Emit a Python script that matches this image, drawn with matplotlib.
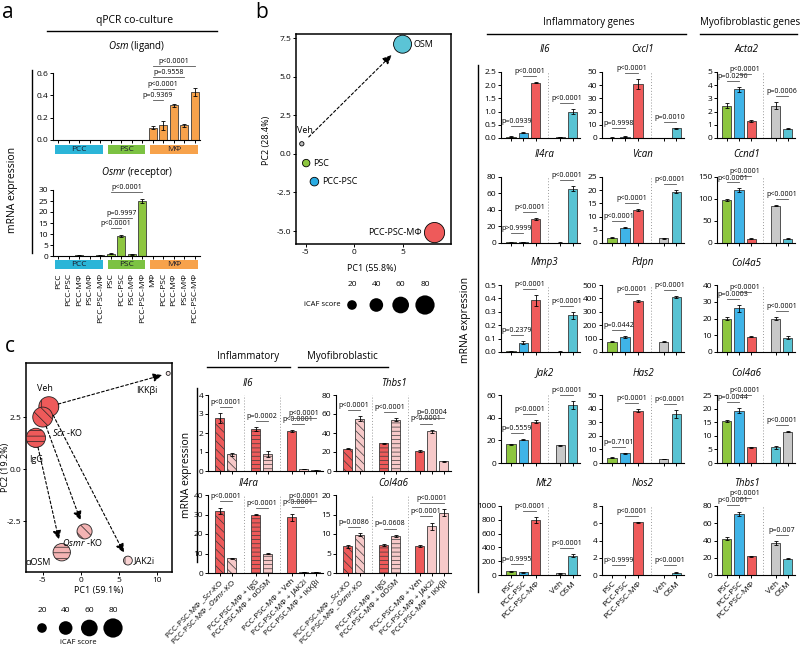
import numpy as np
import matplotlib.pyplot as plt
from matplotlib.lines import Line2D
from matplotlib.ticker import FormatStrFormatter

plt.rcParams['font.family'] = ['Open Sans', 'DejaVu Sans']
plt.rcParams['mathtext.fontset'] = 'custom'
plt.rcParams['mathtext.it'] = 'Open Sans:italic'
plt.rcParams['mathtext.rm'] = 'Open Sans'
plt.rcParams['hatch.linewidth'] = 0.5
plt.rcParams['axes.linewidth'] = 0.8
plt.rcParams['axes.unicode_minus'] = False
plt.rcParams['xtick.major.size'] = 2
plt.rcParams['ytick.major.size'] = 2
plt.rcParams['xtick.major.width'] = 0.7
plt.rcParams['ytick.major.width'] = 0.7
plt.rcParams['xtick.major.pad'] = 1.5
plt.rcParams['ytick.major.pad'] = 1.5
plt.rcParams['xtick.labelsize'] = 6
plt.rcParams['ytick.labelsize'] = 6

# ---------------- a: qPCR co-culture ----------------
cocult_labels = ['PCC', 'PCC-PSC', 'PCC-MΦ', 'PSC-MΦ', 'PCC-PSC-MΦ',
                 'PSC', 'PCC-PSC', 'PSC-MΦ', 'PCC-PSC-MΦ',
                 'MΦ', 'PCC-PSC', 'PCC-MΦ', 'PSC-MΦ', 'PCC-PSC-MΦ']
cell_types = ['PCC', 'PSC', 'MΦ']
cell_counts = [5, 4, 5]
osm = [0, 0, 0, 0, 0, 0, 0, 0, 0, 0.11, 0.13, 0.31, 0.13, 0.43]
osm_err = [0, 0, 0, 0, 0, 0, 0, 0, 0, 0.015, 0.04, 0.01, 0.01, 0.04]
osm_p = [('p=0.9369', 9, 10), ('p<0.0001', 9, 11), ('p=0.9558', 9, 12), ('p<0.0001', 9, 13)]
osmr = [0, 0, 0.3, 0, 0.3, 1.0, 9.2, 0.8, 25.0, 0, 0, 0, 0, 0]
osmr_err = [0, 0, 0.2, 0, 0.2, 0.3, 0.5, 0.2, 1.0, 0, 0, 0, 0, 0]
osmr_p = [('p<0.0001', 5, 6), ('p=0.9997', 5, 7), ('p<0.0001', 5, 8)]

# ---------------- b: PCA ----------------
pca_b_names = ['Veh', 'PSC', 'PCC-PSC', 'OSM', 'PCC-PSC-MΦ']
pca_b_pc1 = [-5.4, -4.95, -4.1, 5.0, 8.3]
pca_b_pc2 = [0.65, -0.6, -1.8, 7.1, -5.1]
pca_b_icaf = [4, 12, 16, 70, 88]

# ---------------- b: bar grid ----------------
b_groups = ['PSC', 'PCC-PSC', 'PCC-PSC-MΦ', 'Veh', 'OSM']
il6 = [0.05, 0.2, 2.1, 0.03, 1.0]
il6_err = [0.01, 0.02, 0.03, 0.01, 0.1]
il6_p = ['p=0.0939', 'p<0.0001', 'p<0.0001']
il4ra = [0.8, 1.0, 29, 0.5, 66]
il4ra_err = [0.2, 0.2, 1.5, 0.2, 3.0]
il4ra_p = ['p>0.9999', 'p<0.0001', 'p<0.0001']
mmp3 = [0.005, 0.07, 0.385, 0.003, 0.275]
mmp3_err = [0.002, 0.01, 0.04, 0.002, 0.025]
mmp3_p = ['p=0.2379', 'p<0.0001', 'p<0.0001']
jak2 = [16.5, 20.5, 36.5, 15.5, 51.5]
jak2_err = [0.7, 0.6, 1.5, 0.5, 3.5]
jak2_p = ['p=0.5559', 'p<0.0001', 'p<0.0001']
mt2 = [55, 40, 800, 25, 280]
mt2_err = [8, 5, 40, 5, 20]
mt2_p = ['p=0.9995', 'p<0.0001', 'p<0.0001']
cxcl1 = [0.3, 1.0, 41, 0.2, 7.5]
cxcl1_err = [0.1, 0.3, 3.5, 0.1, 0.4]
cxcl1_p = ['p=0.9998', 'p<0.0001', 'p=0.0010']
vcan = [2.0, 5.8, 12.5, 1.8, 19.5]
vcan_err = [0.2, 0.3, 0.4, 0.1, 0.6]
vcan_p = ['p<0.0001', 'p<0.0001', 'p<0.0001']
pdpn = [75, 110, 380, 75, 410]
pdpn_err = [4, 6, 10, 4, 6]
pdpn_p = ['p=0.0442', 'p<0.0001', 'p<0.0001']
has2 = [4, 7, 38.5, 3, 36]
has2_err = [0.3, 0.4, 1.0, 0.2, 3.0]
has2_p = ['p=0.7101', 'p<0.0001', 'p<0.0001']
nos2 = [0.02, 0.02, 6.1, 0.02, 0.25]
nos2_err = [0.01, 0.01, 0.05, 0.01, 0.05]
nos2_p = ['p>0.9999', 'p<0.0001', 'p<0.0001']
acta2 = [2.45, 3.7, 1.3, 2.45, 0.7]
acta2_err = [0.2, 0.2, 0.08, 0.25, 0.05]
acta2_p = ['p=0.0296', 'p<0.0001', 'p=0.0006']
ccnd1 = [97, 120, 10, 85, 10]
ccnd1_err = [2, 4, 0.5, 1, 0.5]
ccnd1_p = ['p<0.0001', 'p<0.0001', 'p<0.0001']
col4a5 = [20, 26, 9, 20, 8.5]
col4a5_err = [0.8, 2.0, 0.3, 0.8, 0.8]
col4a5_p = ['p=0.0003', 'p<0.0001', 'p<0.0001']
col4a6 = [15.5, 19.2, 5.8, 5.7, 11.5]
col4a6_err = [0.4, 0.9, 0.2, 0.6, 0.2]
col4a6_p = ['p=0.0044', 'p<0.0001', 'p<0.0001']
thbs1 = [42, 71, 21.5, 37, 19]
thbs1_err = [1.5, 2.5, 0.8, 2.5, 0.5]
thbs1_p = ['p<0.0001', 'p<0.0001', 'p=0.007']
b_pairs = [(0, 1), (1, 2), (3, 4)]

# ---------------- c: PCA ----------------
pca_c_names = ['Veh', 'Scr-KO', 'IgG', 'Osmr-KO', 'αOSM', 'JAK2i', 'IKKβi']
pca_c_text = ['Veh', r'$\mathit{Scr}$ -KO', 'IgG', r'$\mathit{Osmr}$ -KO', 'αOSM', 'JAK2i', 'IKKβi']
pca_c_pc1 = [-4.2, -5.0, -5.9, 0.5, -2.5, 6.2, 11.5]
pca_c_pc2 = [3.0, 2.5, 1.5, -3.0, -4.0, -4.4, 4.6]
pca_c_icaf = [86, 86, 80, 49, 65, 17, 3.5]
pca_c_arrows = [('Veh', 'IKKβi'), ('Veh', 'JAK2i'), ('Scr-KO', 'Osmr-KO'), ('IgG', 'αOSM')]

# ---------------- c: bars ----------------
c_groups = [r'PCC-PSC-MΦ _$\mathit{Scr}$-KO', r'PCC-PSC-MΦ _$\mathit{Osmr}$-KO',
            'PCC-PSC-MΦ + IgG', 'PCC-PSC-MΦ + αOSM',
            'PCC-PSC-MΦ + Veh', 'PCC-PSC-MΦ + JAK2i', 'PCC-PSC-MΦ + IKKβi']
c_il6 = [2.8, 0.88, 2.2, 0.88, 2.1, 0.1, 0.03]
c_il6_err = [0.25, 0.08, 0.1, 0.15, 0.04, 0.02, 0.01]
c_il6_p = [('p<0.0001', 0, 1), ('p=0.0002', 2, 3), ('p<0.0001', 4, 5), ('p<0.0001', 4, 6)]
c_il4ra = [32, 7.5, 30, 10, 28.5, 0.5, 0.5]
c_il4ra_err = [1.5, 0.3, 0.3, 0.4, 2.0, 0.1, 0.1]
c_il4ra_p = [('p<0.0001', 0, 1), ('p<0.0001', 2, 3), ('p<0.0001', 4, 5), ('p<0.0001', 4, 6)]
c_thbs1 = [23.5, 55, 29, 54, 21, 42, 10.5]
c_thbs1_err = [0.5, 2.5, 0.8, 1.5, 0.8, 1.5, 0.5]
c_thbs1_p = [('p<0.0001', 0, 1), ('p<0.0001', 2, 3), ('p<0.0001', 4, 5), ('p=0.0004', 4, 6)]
c_col4a6 = [6.8, 9.8, 7.2, 9.5, 7.0, 12, 15.5]
c_col4a6_err = [0.4, 0.4, 0.3, 0.3, 0.3, 0.9, 0.8]
c_col4a6_p = [('p=0.0086', 0, 1), ('p=0.0608', 2, 3), ('p<0.0001', 4, 5), ('p<0.0001', 4, 6)]

icaf_legend = [20, 40, 60, 80]

# colours
ORANGE = '#F7A24B'
GREEN = '#8DC63F'
STRIP = ['#2BB5D8', '#7CC242', '#F7A24B']
B_COL = ['#8DC63F', '#3FB4E8', '#EF5B5B', '#C8C8C8', '#58C3D3']
RED = '#EE5A5A'
PINK = '#F7C9C9'
EDGE = '#3a3a3a'

W, H = 800, 647
fig = plt.figure(figsize=(W / 100, H / 100), dpi=100)


def box(l, t, r, b):
    return fig.add_axes([l / W, 1 - b / H, (r - l) / W, (b - t) / H])


def ftext(x, y, s, **kw):
    fig.text(x / W, 1 - y / H, s, **kw)


def fline(x0, x1, y0, y1, lw=1.0):
    fig.add_artist(Line2D([x0 / W, x1 / W], [1 - y0 / H, 1 - y1 / H],
                          transform=fig.transFigure, color='k', lw=lw))


def size(score):
    return 2.4 * np.asarray(score, dtype=float)


def draw_bars(ax, x, vals, errs, colors, hatches=None):
    bs = ax.bar(x, vals, 0.75, color=colors, edgecolor=EDGE, linewidth=0.6, zorder=2)
    if hatches is not None:
        for b, h in zip(bs, hatches):
            b.set_hatch(h)
    ax.errorbar(x, vals, yerr=errs, fmt='none', ecolor='k', elinewidth=0.6,
                capsize=1.6, capthick=0.6, zorder=3)


def style_axis(ax, ymax, ystep, xlim, xt):
    ax.set_xlim(*xlim)
    ax.set_ylim(0, ymax)
    ax.set_yticks(np.arange(0, ymax + ystep * 0.5, ystep))
    ax.yaxis.set_major_formatter(FormatStrFormatter('%.1f' if ystep < 1 else '%d'))
    ax.set_xticks(xt)
    ax.set_xticklabels([])
    ax.spines['top'].set_visible(False)
    ax.spines['right'].set_visible(False)
    ax.patch.set_alpha(0)


def brackets(ax, x, vals, errs, plist, ymax, off=0.1, step=0.13, floor=0.15, fs=5):
    tops = [v + e for v, e in zip(vals, errs)]
    prev = None
    for txt, i, j in plist:
        h = max(max(tops[i:j + 1]) + off * ymax, floor * ymax)
        if prev is not None and prev[1] >= i and prev[0] <= j:
            h = max(h, prev[2] + step * ymax)
        prev = (i, j, h)
        ax.plot([x[i], x[j]], [h, h], color='#555555', lw=0.6, clip_on=False, zorder=4)
        ax.text((x[i] + x[j]) / 2, h + 0.015 * ymax, txt, ha='center', va='bottom',
                fontsize=fs, clip_on=False)


def dash_arrow(ax, p0, p1, sa, sb):
    ax.annotate('', xy=p1, xytext=p0,
                arrowprops=dict(arrowstyle='-|>,head_length=0.55,head_width=0.25',
                                linestyle=(0, (2.5, 2)), lw=0.8, color='k',
                                shrinkA=sa, shrinkB=sb))


# ============ panel a ============
ftext(2, 12, 'a', fontsize=15, va='center')
ftext(135, 20, 'qPCR co-culture', fontsize=7.5, ha='center', va='center')
fline(47, 217, 31, 31)
ftext(137, 46, r'$\mathit{Osm}$ (ligand)', fontsize=7, ha='center', va='center')
ftext(137, 172, r'$\mathit{Osmr}$ (receptor)', fontsize=7, ha='center', va='center')
fline(32, 32, 70, 253)
ftext(13, 190, 'mRNA expression', fontsize=7.5, rotation=90, ha='center', va='center')

xa = np.arange(len(cocult_labels))
xlim_a = (-0.5, 13.5)

ax = box(53, 73, 200, 140)
draw_bars(ax, xa, osm, osm_err, ORANGE)
style_axis(ax, 0.6, 0.2, xlim_a, xa)
brackets(ax, xa, osm, osm_err, osm_p, 0.6, off=0.1, step=0.167, floor=0.6)

ax = box(53, 190, 200, 256)
draw_bars(ax, xa, osmr, osmr_err, GREEN)
style_axis(ax, 30, 5, xlim_a, xa)
brackets(ax, xa, osmr, osmr_err, osmr_p, 30, off=0.1, step=0.15)

for k, (t, b) in enumerate([(145, 154), (260, 269)]):
    sa = box(53, t, 200, b)
    sa.set_xlim(*xlim_a)
    sa.set_ylim(0, 1)
    start = 0
    for name, n, c in zip(cell_types, cell_counts, STRIP):
        sa.axvspan(start - 0.3, start + n - 1 + 0.3, color=c, lw=0)
        sa.text(start + (n - 1) / 2, 0.5, name, ha='center', va='center', fontsize=6,
                color='#1a1a2a')
        start += n
    for s in sa.spines.values():
        s.set_visible(False)
    sa.set_yticks([])
    sa.set_xticks(xa)
    if k == 1:
        sa.set_xticklabels(cocult_labels, rotation=90, fontsize=6)
        sa.tick_params(axis='x', length=0, pad=3)
    else:
        sa.set_xticklabels([])
        sa.tick_params(axis='x', length=0)

# ============ panel b: PCA ============
ftext(262, 12, 'b', fontsize=15, ha='center', va='center')
pb = box(296, 34, 451, 244)
pb.set_xlim(-6, 10)
pb.set_ylim(-5.84, 7.76)
pb.set_xticks([-5, 0, 5])
pb.set_yticks([-5, -2.5, 0, 2.5, 5, 7.5])
pb.xaxis.set_major_formatter(FormatStrFormatter('%d'))
pb.yaxis.set_major_formatter(FormatStrFormatter('%.1f'))
for s in pb.spines.values():
    s.set_linewidth(1.1)
pca_b_colors = ['#BDBDBD', GREEN, '#29ABE2', '#5BC4D6', RED]
pb.scatter(pca_b_pc1, pca_b_pc2, s=size(pca_b_icaf), c=pca_b_colors,
           edgecolors='k', linewidths=0.6, zorder=3)
b_label_off = [(3, 13, 'center'), (7, 0, 'left'), (8, 0, 'left'), (11, 0, 'left'), (-13, 0, 'right')]
for name, x, y, (dx, dy, ha) in zip(pca_b_names, pca_b_pc1, pca_b_pc2, b_label_off):
    pb.annotate(name, (x, y), xytext=(dx, dy), textcoords='offset pixels',
                ha=ha, va='center', fontsize=6.5)
dash_arrow(pb, (pca_b_pc1[0], pca_b_pc2[0]), (pca_b_pc1[3], pca_b_pc2[3]), 7, 11)
ftext(266, 140, 'PC2 (28.4%)', fontsize=6.5, rotation=90, ha='center', va='center')
ftext(372, 268, 'PC1 (55.8%)', fontsize=6.5, ha='center', va='center')

lb = box(290, 275, 450, 322)
lb.set_xlim(290, 450)
lb.set_ylim(322, 275)
lb.axis('off')
lx = np.linspace(352, 425, len(icaf_legend))
lb.scatter(lx, [305] * len(lx), s=size(icaf_legend), c='k', lw=0)
for x, v in zip(lx, icaf_legend):
    lb.text(x, 285, str(v), ha='center', va='center', fontsize=6)
lb.text(322, 305, 'iCAF score', ha='center', va='center', fontsize=5.5)

# ============ panel b: bar grid ============
ftext(589, 23, 'Inflammatory genes', fontsize=7, ha='center', va='center')
fline(487, 686, 34, 34)
ftext(750, 23, 'Myofibroblastic genes', fontsize=7, ha='center', va='center')
fline(700, 797, 34, 34)
fline(478, 478, 65, 592)
ftext(465, 320, 'mRNA expression', fontsize=7.5, rotation=90, ha='center', va='center')

b_genes = [['Il6', 'Il4ra', 'Mmp3', 'Jak2', 'Mt2'],
           ['Cxcl1', 'Vcan', 'Pdpn', 'Has2', 'Nos2'],
           ['Acta2', 'Ccnd1', 'Col4a5', 'Col4a6', 'Thbs1']]
b_table = {
    'Il6': (il6, il6_err, il6_p, 2.5, 0.5), 'Il4ra': (il4ra, il4ra_err, il4ra_p, 80, 20),
    'Mmp3': (mmp3, mmp3_err, mmp3_p, 0.5, 0.1), 'Jak2': (jak2, jak2_err, jak2_p, 60, 20),
    'Mt2': (mt2, mt2_err, mt2_p, 1000, 200), 'Cxcl1': (cxcl1, cxcl1_err, cxcl1_p, 50, 10),
    'Vcan': (vcan, vcan_err, vcan_p, 25, 5), 'Pdpn': (pdpn, pdpn_err, pdpn_p, 500, 100),
    'Has2': (has2, has2_err, has2_p, 50, 10), 'Nos2': (nos2, nos2_err, nos2_p, 8, 2),
    'Acta2': (acta2, acta2_err, acta2_p, 5, 1), 'Ccnd1': (ccnd1, ccnd1_err, ccnd1_p, 150, 50),
    'Col4a5': (col4a5, col4a5_err, col4a5_p, 40, 10),
    'Col4a6': (col4a6, col4a6_err, col4a6_p, 25, 5),
    'Thbs1': (thbs1, thbs1_err, thbs1_p, 80, 20),
}
b_x = [0, 1, 2, 4, 5]
b_cols_px = [(501, 580), (602, 684), (717, 795)]
b_rows_px = [(72, 138), (177, 243), (285, 352), (395, 463), (506, 575)]
b_title_frac = [0.55, 0.5, 0.38]
for ci, genes in enumerate(b_genes):
    l, r = b_cols_px[ci]
    for ri, g in enumerate(genes):
        t, b = b_rows_px[ri]
        vals, errs, pv, ymax, ystep = b_table[g]
        cols = list(B_COL)
        if g == 'Col4a6':
            cols[3], cols[4] = B_COL[4], B_COL[3]
        ax = box(l, t, r, b)
        ax.axvline(3, color='#9a9a9a', ls=(0, (1, 2)), lw=0.7, zorder=1)
        draw_bars(ax, b_x, vals, errs, cols)
        style_axis(ax, ymax, ystep, (-0.8, 5.6), b_x)
        brackets(ax, b_x, vals, errs, [(p, i, j) for p, (i, j) in zip(pv, b_pairs)],
                 ymax, off=0.09, step=0.1, floor=0.15)
        ax.text(b_title_frac[ci], 1 + 22 / (b - t), g, transform=ax.transAxes,
                ha='center', va='center', fontsize=7, style='italic')
        if ri == len(genes) - 1:
            ax.set_xticklabels(b_groups, rotation=45, ha='right', rotation_mode='anchor',
                               fontsize=6)

# ============ panel c: PCA ============
ftext(10, 347, 'c', fontsize=15, ha='center', va='center')
pc = box(26, 363, 172, 572)
pc.set_xlim(-7.2, 12)
pc.set_ylim(-4.95, 5.1)
pc.set_xticks([-5, 0, 5, 10])
pc.set_yticks([-2.5, 0, 2.5])
pc.xaxis.set_major_formatter(FormatStrFormatter('%d'))
pc.yaxis.set_major_formatter(FormatStrFormatter('%.1f'))
for s in pc.spines.values():
    s.set_linewidth(1.1)
pca_c_colors = [RED, RED, RED, '#F4B3B3', '#F4B3B3', '#F9D3D3', '#F5E6E6']
pca_c_hatch = ['|', '\\\\\\', '---', '\\\\\\', '---', '|', '']
for x, y, sc, col, h in zip(pca_c_pc1, pca_c_pc2, pca_c_icaf, pca_c_colors, pca_c_hatch):
    pc.scatter([x], [y], s=size([sc]), c=col, edgecolors='#222222', linewidths=0.6,
               hatch=h, zorder=3)
c_label_off = [(-4, 18, 'center'), (25, -15, 'center'), (0, -22, 'center'),
               (-2, -11, 'center'), (-24, -10, 'center'), (6, 0, 'left'), (-21, -17, 'center')]
for txt, x, y, (dx, dy, ha) in zip(pca_c_text, pca_c_pc1, pca_c_pc2, c_label_off):
    pc.annotate(txt, (x, y), xytext=(dx, dy), textcoords='offset pixels',
                ha=ha, va='center', fontsize=6.5, zorder=5)
for a, b in pca_c_arrows:
    ia, ib = pca_c_names.index(a), pca_c_names.index(b)
    dash_arrow(pc, (pca_c_pc1[ia], pca_c_pc2[ia]), (pca_c_pc1[ib], pca_c_pc2[ib]),
               7, np.sqrt(size([pca_c_icaf[ib]])[0]) / 2 + 3)
ftext(6, 467, 'PC2 (19.2%)', fontsize=6.5, rotation=90, ha='center', va='center')
ftext(99, 591, 'PC1 (59.1%)', fontsize=6.5, ha='center', va='center')

lc = box(20, 600, 140, 647)
lc.set_xlim(20, 140)
lc.set_ylim(647, 600)
lc.axis('off')
lx = np.linspace(42, 113, len(icaf_legend))
lc.scatter(lx, [628] * len(lx), s=size(icaf_legend), c='k', lw=0)
for x, v in zip(lx, icaf_legend):
    lc.text(x, 610, str(v), ha='center', va='center', fontsize=6)
lc.text(78, 643, 'iCAF score', ha='center', va='center', fontsize=5.5)

# ============ panel c: bars ============
ftext(248, 356, 'Inflammatory', fontsize=7, ha='center', va='center')
fline(207, 290, 367, 367)
ftext(342, 356, 'Myofibroblastic', fontsize=7, ha='center', va='center')
fline(298, 388, 367, 367)
fline(197, 197, 388, 562)
ftext(187, 475, 'mRNA expression', fontsize=7.5, rotation=90, ha='center', va='center')

c_x = [0, 1, 3, 4, 6, 7, 8]
c_colors = [RED, PINK, RED, PINK, RED, PINK, PINK]
c_hatch = ['\\\\\\\\', '\\\\\\\\', '----', '----', '', '', '']
c_genes = [['Il6', 'Il4ra'], ['Thbs1', 'Col4a6']]
c_table = {
    'Il6': (c_il6, c_il6_err, c_il6_p, 4, 1), 'Il4ra': (c_il4ra, c_il4ra_err, c_il4ra_p, 40, 10),
    'Thbs1': (c_thbs1, c_thbs1_err, c_thbs1_p, 80, 20),
    'Col4a6': (c_col4a6, c_col4a6_err, c_col4a6_p, 20, 5),
}
c_cols_px = [(208, 323), (336, 451)]
c_rows_px = [(395, 471), (495, 573)]
c_title_frac = [0.35, 0.5]
for ci, genes in enumerate(c_genes):
    l, r = c_cols_px[ci]
    for ri, g in enumerate(genes):
        t, b = c_rows_px[ri]
        vals, errs, pv, ymax, ystep = c_table[g]
        ax = box(l, t, r, b)
        for xs in (2, 5):
            ax.axvline(xs, color='#9a9a9a', ls=(0, (1, 2)), lw=0.7, zorder=1)
        draw_bars(ax, c_x, vals, errs, c_colors, c_hatch)
        style_axis(ax, ymax, ystep, (-1.0, 8.6), c_x)
        brackets(ax, c_x, vals, errs, pv, ymax, off=0.08, step=0.08, floor=0.15)
        ax.text(c_title_frac[ci], 1 + 11 / (b - t), g, transform=ax.transAxes,
                ha='center', va='center', fontsize=7, style='italic')
        if ri == 1:
            ax.set_xticklabels(c_groups, rotation=45, ha='right', rotation_mode='anchor',
                               fontsize=5.8)

fig.savefig('out.png', dpi=100)
